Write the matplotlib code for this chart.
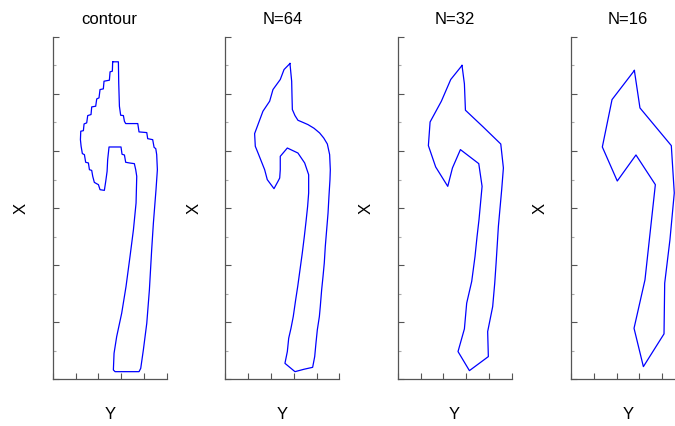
import matplotlib.pyplot as plt
from matplotlib.ticker import MultipleLocator

plt.rcParams['font.family'] = ['Liberation Sans', 'DejaVu Sans']

TITLES = ["contour", "N=64", "N=32", "N=16"]

# outline traced from the mask (staircase contour), horizontal = Y, vertical = X
y_contour = [52.6, 57.6, 57.9, 58.5, 59.6, 62.0, 62.9, 64.0, 74.6, 75.7, 82.5, 83.3,
             87.7, 88.9, 90.4, 91.2, 91.8, 90.6, 88.3, 86.8, 84.8, 82.5, 79.5, 77.2,
             75.7, 54.7, 53.2, 53.8, 56.1, 60.5, 64.3, 67.8, 70.8, 73.1, 73.7, 72.8,
             71.6, 67.3, 64.0, 62.9, 60.8, 59.9, 49.4, 48.2, 47.7, 46.5, 45.3, 41.5,
             40.1, 38.6, 36.5, 35.1, 34.2, 32.2, 31.3, 28.9, 27.8, 26.0, 24.9, 24.3,
             24.6, 26.9, 27.5, 29.8, 30.7, 33.6, 34.2, 37.7, 38.6, 40.6, 41.5, 44.4,
             45.0, 49.7, 50.3, 52.3]
x_contour = [278.1, 278.1, 259.6, 239.2, 231.3, 231.0, 226.0, 224.0, 224.0, 216.7, 216.1, 210.8,
             209.9, 203.2, 202.0, 196.8, 183.6, 166.1, 136.8, 113.5, 78.4, 49.1, 25.7, 9.6,
             6.7, 6.7, 8.2, 22.8, 37.4, 57.9, 81.3, 107.6, 131.0, 154.4, 177.8, 183.6,
             188.9, 189.5, 190.1, 196.5, 197.1, 203.5, 203.5, 192.4, 182.2, 173.4, 165.5, 166.1,
             170.5, 171.3, 172.5, 177.8, 183.0, 183.6, 189.5, 190.1, 196.8, 197.7, 204.1, 209.9,
             217.3, 217.8, 223.7, 224.6, 231.0, 231.9, 238.6, 239.2, 245.6, 246.5, 253.8, 254.4,
             261.1, 262.0, 269.3, 269.9]

# 64-point approximation
y_64 = [56.7, 58.2, 58.5, 58.8, 61.1, 63.7, 68.4, 72.5, 77.8, 82.7, 86.3, 89.5,
        91.5, 92.1, 91.8, 90.9, 90.1, 88.9, 87.7, 86.8, 85.7, 84.5, 83.3, 82.5,
        80.7, 79.5, 78.4, 76.6, 69.0, 61.1, 52.3, 54.4, 55.6, 57.6, 59.6, 61.7,
        63.5, 65.5, 67.5, 69.3, 70.8, 72.2, 73.1, 73.1, 69.6, 63.7, 54.4, 48.2,
        48.2, 47.7, 46.2, 42.7, 36.8, 34.5, 31.6, 28.7, 26.3, 25.7, 29.2, 33.0,
        38.9, 41.8, 48.2, 51.5]
x_64 = [276.6, 261.1, 248.0, 236.3, 231.0, 226.9, 224.9, 223.1, 219.9, 215.8, 211.4, 206.1,
        196.8, 183.6, 174.9, 160.2, 145.6, 131.0, 116.4, 101.8, 90.1, 78.4, 63.7, 55.0,
        43.3, 31.6, 19.9, 10.5, 8.8, 6.7, 14.0, 24.3, 36.0, 44.7, 55.0, 69.6,
        81.3, 95.9, 110.5, 125.1, 138.3, 151.5, 163.2, 179.2, 189.5, 198.2, 202.6, 195.3,
        183.6, 176.3, 173.4, 167.0, 174.9, 183.6, 190.9, 198.2, 204.1, 215.2, 224.6, 234.8,
        243.6, 253.8, 262.6, 271.3]

# 32-point approximation
y_32 = [56.4, 58.5, 59.4, 74.9, 90.4, 92.7, 91.2, 88.3, 87.4, 86.3, 85.1, 83.3,
        78.9, 79.5, 62.9, 52.9, 58.5, 60.5, 64.9, 67.8, 69.6, 71.3, 74.0, 71.1,
        55.0, 48.0, 43.9, 33.3, 26.9, 28.4, 38.3, 46.5]
x_32 = [274.9, 258.8, 235.7, 221.1, 206.1, 185.1, 166.1, 133.9, 119.3, 101.8, 84.2, 63.7,
        41.8, 19.9, 7.6, 24.3, 44.2, 66.7, 85.7, 107.6, 125.1, 139.8, 169.0, 188.9,
        201.2, 185.1, 169.0, 186.0, 204.7, 225.4, 243.6, 262.6]

# 16-point approximation
y_16 = [55.6, 60.5, 88.0, 90.6, 86.8, 82.2, 81.6, 63.5, 55.3, 64.9, 74.0, 57.0,
        40.6, 27.5, 36.0, 46.0]
x_16 = [270.5, 237.7, 204.7, 163.2, 122.2, 84.2, 39.8, 11.1, 44.7, 87.1, 170.5, 196.5,
        173.7, 203.5, 245.0, 258.0]

shapes = [(y_contour, x_contour), (y_64, x_64), (y_32, x_32), (y_16, x_16)]

fig = plt.figure(figsize=(6.75, 4.26), dpi=100)
lefts = [0.0781, 0.3338, 0.5892, 0.8459]

for left, title, (yy, xx) in zip(lefts, TITLES, shapes):
    ax = fig.add_axes([left, 0.1096, 0.1689, 0.8040])
    ax.plot(yy + yy[:1], xx + xx[:1], color='#0000ff', lw=0.9)
    ax.set_xlim(0, 100)
    ax.set_ylim(0, 300)
    ax.xaxis.set_major_locator(MultipleLocator(20))
    ax.yaxis.set_major_locator(MultipleLocator(50))
    ax.yaxis.set_minor_locator(MultipleLocator(25))
    ax.tick_params(which='both', direction='in', labelbottom=False, labelleft=False,
                   color='#555555', width=0.8)
    ax.tick_params(which='major', length=4)
    ax.tick_params(which='minor', length=2.5, color='#aaaaaa')
    for side in ('top', 'right'):
        ax.spines[side].set_visible(False)
    for side in ('left', 'bottom'):
        ax.spines[side].set_color('#555555')
        ax.spines[side].set_linewidth(0.9)
    ax.set_title(title, fontsize=12, pad=9.5)
    ax.set_xlabel('Y', fontsize=12, labelpad=20)
    ax.set_ylabel('X', fontsize=12, labelpad=17)

fig.savefig('out.png', dpi=100)
